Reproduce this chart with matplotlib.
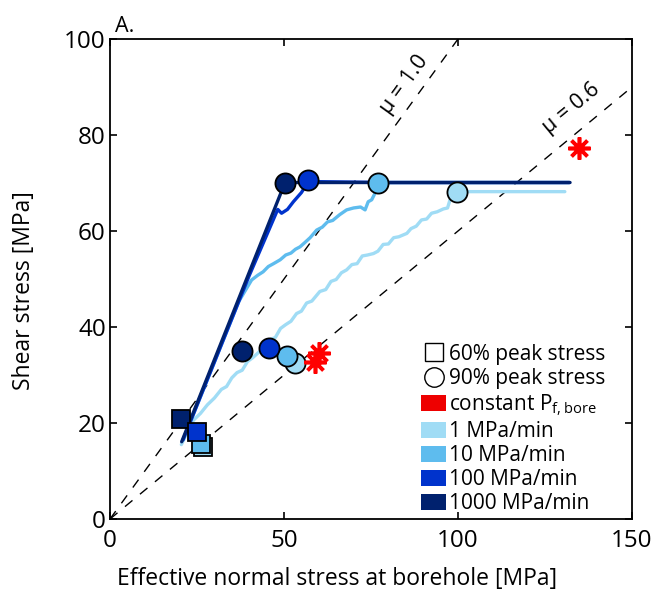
import matplotlib
matplotlib.use("Agg")
import matplotlib.pyplot as plt
from matplotlib.lines import Line2D
from matplotlib.patches import Patch
import numpy as np

plt.rcParams['font.family'] = ['Open Sans', 'DejaVu Sans']
plt.rcParams['mathtext.default'] = 'regular'

# ---------------- data ----------------
rates = ['1 MPa/min', '10 MPa/min', '100 MPa/min', '1000 MPa/min']
colors = ['#a0dcf5', '#5ebcee', '#0033cc', '#00216e']

# stress paths (effective normal stress, shear stress)
path1_x = [20.5, 22.5, 24.0, 26.0, 28.0, 30.0, 32.0, 33.5, 35.0, 36.5, 38.0, 39.5, 41.0, 43.0, 44.5,
           46.0, 47.5, 49.0, 50.5, 52.0, 53.6, 55.0, 56.5, 58.0, 60.3, 62.0, 63.5, 65.0, 66.5, 68.0,
           69.5, 71.0, 72.5, 74.0, 75.7, 77.0, 78.5, 80.0, 81.5, 83.0, 85.3, 86.5, 88.0, 89.5,
           91.0, 92.4, 94.0, 95.8, 97.0, 97.7, 98.5, 99.6, 110.0, 120.0, 130.7]
path1_y = [15.5, 18.5, 20.6, 22.0, 23.8, 25.2, 27.0, 27.6, 29.4, 30.5, 31.0, 32.8, 33.6, 34.9, 35.6,
           37.4, 37.8, 39.7, 40.5, 41.2, 42.8, 43.3, 45.0, 45.4, 47.4, 47.8, 49.5, 49.9, 51.3, 51.9,
           53.0, 53.2, 54.8, 55.0, 55.3, 55.8, 57.2, 57.3, 58.6, 58.8, 59.5, 60.5, 61.0, 62.3,
           62.5, 63.7, 64.0, 64.6, 64.8, 66.5, 67.0, 68.2, 68.2, 68.2, 68.2]

path10_x = [21.0, 26.0, 30.0, 34.0, 37.0, 39.3, 40.7, 42.5, 44.0, 45.5, 47.0, 48.9, 50.5, 52.0,
            53.3, 54.6, 56.0, 57.5, 59.4, 61.0, 62.5, 64.0, 66.0, 68.0, 70.0, 72.0, 73.3, 74.2,
            75.2, 76.1, 76.9, 100.0, 132.0]
path10_y = [16.5, 25.5, 32.7, 39.9, 45.3, 48.1, 49.8, 50.8, 51.5, 52.6, 53.2, 54.0, 55.0, 55.4,
            56.2, 56.7, 57.6, 58.6, 60.2, 60.8, 61.9, 62.2, 63.4, 64.4, 64.8, 65.0, 64.4, 66.1,
            66.5, 67.8, 70.1, 70.1, 70.1]

path100_x = [21.0, 30.0, 40.0, 48.2, 49.3, 51.0, 52.7, 55.0, 57.0, 80.0, 132.0]
path100_y = [16.5, 32.7, 50.7, 64.5, 63.7, 64.5, 66.1, 68.0, 70.3, 70.1, 70.1]

path1000_x = [20.6, 50.3, 90.0, 132.2]
path1000_y = [16.1, 70.1, 70.1, 70.1]

paths = [(path1_x, path1_y), (path10_x, path10_y), (path100_x, path100_y), (path1000_x, path1000_y)]

# 60% peak stress (squares)
sq_x = [26.7, 26.1, 25.1, 20.3]
sq_y = [15.0, 15.6, 18.2, 20.8]
# 90% peak stress (circles): lower and upper groups
c_low_x = [53.2, 50.8, 45.8, 38.0]
c_low_y = [32.6, 34.0, 35.6, 34.9]
c_high_x = [99.6, 76.9, 57.0, 50.3]
c_high_y = [68.2, 70.1, 70.6, 70.1]
# constant Pf,bore (red stars)
star_x = [58.9, 60.2, 134.9]
star_y = [32.8, 34.6, 77.2]

# friction lines
mus = [1.0, 0.6]
mu_labels = ['μ = 1.0', 'μ = 0.6']
mu_label_x = [84.5, 132.5]

# ---------------- figure ----------------
fig = plt.figure(figsize=(6.6, 5.93), dpi=100)
ax = fig.add_axes([110/660, 74/593, 522/660, 480/593])
ax.set_xlim(0, 150)
ax.set_ylim(0, 100)

xx = np.array([0, 150])
for mu in mus:
    ax.plot(xx, mu * xx, color='black', lw=1.0, dashes=(7, 7), zorder=1)

# rotation of labels in screen space
ppx = 522 / 150
ppy = 480 / 100
for mu, lab, lx in zip(mus, mu_labels, mu_label_x):
    ang = np.degrees(np.arctan(mu * ppy / ppx))
    ax.text(lx, mu * lx + 6.0, lab, rotation=ang, rotation_mode='anchor',
            ha='center', va='center', fontsize=15.5, zorder=2)

for (px, py), c in zip(paths, colors):
    ax.plot(px, py, color=c, lw=2.4, solid_capstyle='round', solid_joinstyle='round', zorder=3)

order = [0, 1, 3, 2]
for i in order:
    ax.plot(sq_x[i], sq_y[i], marker='s', ms=13, mfc=colors[i], mec='black', mew=1.3,
            ls='none', zorder=5)
for i in order:
    ax.plot(c_low_x[i], c_low_y[i], marker='o', ms=14.5, mfc=colors[i], mec='black', mew=1.3,
            ls='none', zorder=6)
    ax.plot(c_high_x[i], c_high_y[i], marker='o', ms=14.5, mfc=colors[i], mec='black', mew=1.3,
            ls='none', zorder=6)

ax.plot(star_x, star_y, marker=(8, 2, 0), ms=16, mec='#ff0000', mew=2.6, ls='none', zorder=7)

ax.set_xticks([0, 50, 100, 150])
ax.set_yticks([0, 20, 40, 60, 80, 100])
ax.tick_params(direction='in', top=True, right=True, length=5, width=1.2,
               labelsize=17.5, pad=3)
ax.tick_params(axis='x', pad=7)
for s in ax.spines.values():
    s.set_linewidth(1.3)

ax.set_xlabel('Effective normal stress at borehole [MPa]', fontsize=16.5)
ax.xaxis.set_label_coords(0.435, -0.10)
ax.set_ylabel('Shear stress [MPa]', fontsize=16.5)
ax.yaxis.set_label_coords(-0.142, 0.475)
ax.text(0.01, 1.005, 'A.', transform=ax.transAxes, fontsize=15.5, ha='left', va='bottom')

handles = [
    Line2D([], [], marker='s', ms=13, mfc='white', mec='black', mew=1.0, ls='none'),
    Line2D([], [], marker='o', ms=14, mfc='white', mec='black', mew=1.0, ls='none'),
    Patch(facecolor='#ee0000', edgecolor='none'),
] + [Patch(facecolor=c, edgecolor='none') for c in colors]
labels = ['60% peak stress', '90% peak stress', 'constant P$_{f,bore}$'] + rates
ax.legend(handles, labels, loc='lower right', bbox_to_anchor=(0.98, -0.025), frameon=False,
          fontsize=15, handlelength=1.2, handleheight=0.8, handletextpad=0.1,
          labelspacing=0.15, borderpad=0.3)

fig.savefig('out.png', dpi=100)
